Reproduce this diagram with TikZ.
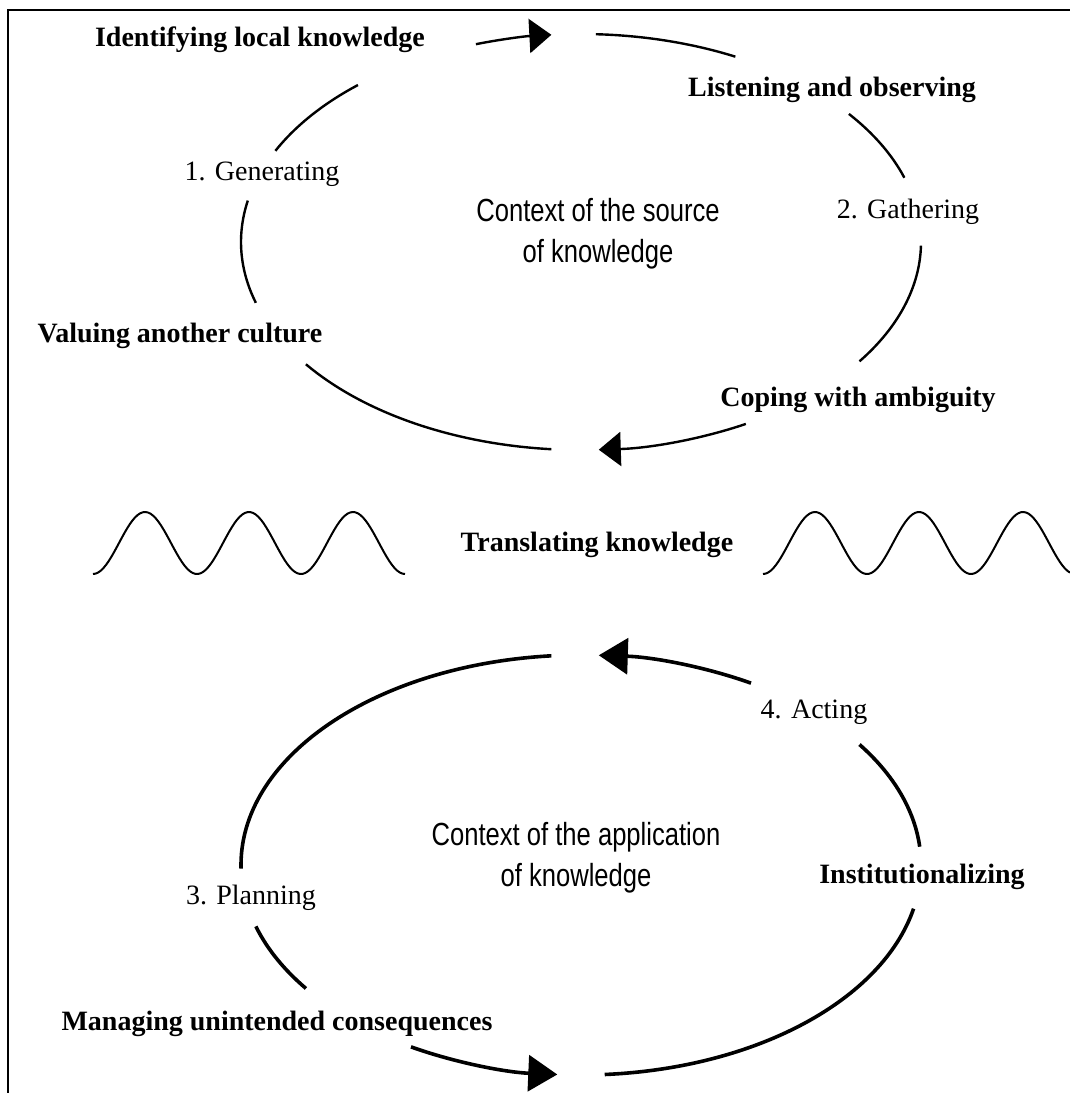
\documentclass[tikz,border=0pt]{standalone}
\usepackage{fontspec}
\setmainfont{Liberation Serif}
\newfontfamily\narrowsans[FakeStretch=0.8]{Liberation Sans}
\usetikzlibrary{arrows.meta}

\begin{document}
\begin{tikzpicture}[x=0.5pt,y=0.5pt,
  srcarc/.style={line width=1.2pt},
  apparc/.style={line width=1.8pt},
  srctip/.style={-{Triangle[length=11pt,width=17pt]}},
  apptip/.style={-{Triangle[length=14.5pt,width=18pt]}},
  wave/.style={line width=1pt},
  lbl/.style={font=\fontsize{14}{17}\selectfont,inner sep=0pt},
  blbl/.style={font=\fontsize{14}{17}\selectfont\bfseries,inner sep=0pt},
  ctx/.style={font=\fontsize{16}{20.5}\selectfont\narrowsans,align=center,inner sep=0pt}]

\useasboundingbox (0,0) rectangle (1070,-1093);

%Frame
\draw[line width=1.4pt] (1070,-10)--(8,-10)--(8,-1093);

%Upper cycle
\coordinate (src) at (581,-242);
\node[blbl] (ident) at (260,-40) {Identifying local knowledge};
\node[blbl] (listen) at (832,-90) {Listening and observing};
\node[lbl] (gen) at (262,-174) {1. Generating};
\node[lbl] (gath) at (908,-212) {2. Gathering};
\node[ctx] (srcctx) at (598,-234) {Context of the source\\of knowledge};
\node[blbl] (value) at (180,-336) {Valuing another culture};
\node[blbl] (cope) at (858,-400) {Coping with ambiguity};

\draw[srcarc,srctip] (src) ++(108:340 and 208) arc[start angle=108,end angle=95,x radius=340,y radius=208];
\draw[srcarc] (src) ++(87.5:340 and 208) arc[start angle=87.5,end angle=63,x radius=340,y radius=208];
\draw[srcarc] (src) ++(38:340 and 208) arc[start angle=38,end angle=18,x radius=340,y radius=208];
\draw[srcarc] (src) ++(-1:340 and 208) arc[start angle=-1,end angle=-35,x radius=340,y radius=208];
\draw[srcarc,srctip] (src) ++(-61:340 and 208) arc[start angle=-61,end angle=-87,x radius=340,y radius=208];
\draw[srcarc] (src) ++(-95:340 and 208) arc[start angle=-95,end angle=-144,x radius=340,y radius=208];
\draw[srcarc] (src) ++(197:340 and 208) arc[start angle=197,end angle=168.5,x radius=340,y radius=208];
\draw[srcarc] (src) ++(154:340 and 208) arc[start angle=154,end angle=131,x radius=340,y radius=208];

%Translation
\node[blbl] (transl) at (597,-545) {Translating knowledge};
\draw[wave] plot[domain=93:405,samples=120] (\x,{-543+31*cos(3.46154*(\x-145))});
\draw[wave] plot[domain=763:1070,samples=120] (\x,{-543+31*cos(3.46154*(\x-815))});

%Lower cycle
\coordinate (app) at (581,-865);
\node[lbl] (act) at (814,-712) {4. Acting};
\node[ctx] (appctx) at (576,-858) {Context of the application\\of knowledge};
\node[blbl] (inst) at (922,-877) {Institutionalizing};
\node[lbl] (plan) at (251,-898) {3. Planning};
\node[blbl] (manage) at (277,-1024) {Managing unintended consequences};

\draw[apparc,apptip] (app) ++(60:340 and 210) arc[start angle=60,end angle=87,x radius=340,y radius=210];
\draw[apparc] (app) ++(95:340 and 210) arc[start angle=95,end angle=181,x radius=340,y radius=210];
\draw[apparc] (app) ++(197:340 and 210) arc[start angle=197,end angle=216,x radius=340,y radius=210];
\draw[apparc,apptip] (app) ++(240:340 and 210) arc[start angle=240,end angle=266,x radius=340,y radius=210];
\draw[apparc] (app) ++(274:340 and 210) arc[start angle=274,end angle=348,x radius=340,y radius=210];
\draw[apparc] (app) ++(5:340 and 210) arc[start angle=5,end angle=35,x radius=340,y radius=210];

\end{tikzpicture}
\end{document}
